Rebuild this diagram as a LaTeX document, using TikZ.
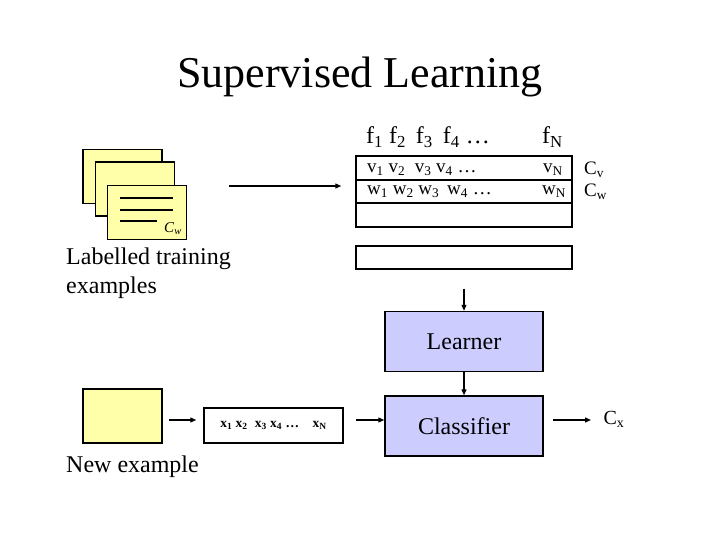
\documentclass[tikz,border=0pt]{standalone}
\usepackage{fontspec}
\setmainfont{Liberation Serif}
\usetikzlibrary{arrows.meta}
\definecolor{cardyellow}{RGB}{255,255,170}
\definecolor{lav}{RGB}{204,204,255}
\begin{document}
\begin{tikzpicture}[x=1pt,y=-1pt,
  card/.style={draw=black,line width=1.5pt,fill=cardyellow,minimum width=79pt,minimum height=54pt,inner sep=0pt},
  cell/.style={draw=black,line width=1.5pt,fill=white,minimum width=216pt,inner sep=0pt},
  procbox/.style={draw=black,line width=1.5pt,fill=lav,minimum width=158pt,minimum height=60pt,inner sep=0pt,font=\fontsize{24}{28}\selectfont},
  arr/.style={-{Triangle[length=6pt,width=5pt]},line width=1.3pt},
  big/.style={font=\fontsize{24}{29}\selectfont},
  mid/.style={font=\fontsize{19}{22}\selectfont},
  inner sep=0pt]
\useasboundingbox (0,0) rectangle (720,540);
% title
\node[font=\fontsize{44}{50}\selectfont] (title) at (360,77) {Supervised Learning};
% cards
\node[card] (card1) at (122.5,176.5) {};
\node[card] (card2) at (135,189) {};
\node[card] (card3) at (147,212.5) {};
\draw[line width=1.5pt] (120,198) -- (173,198) (120,210) -- (173,210) (120,221) -- (157,221);
\node[font=\fontsize{15}{17}\selectfont\itshape] (cw) at (173,229) {C\textsubscript{w}};
\node[big,align=left,anchor=north west] (lte) at (66,248) {Labelled training\\examples};
% table
\node[cell,minimum height=24pt] (row1) at (464,168) {};
\node[cell,minimum height=23pt] (row2) at (464,191.5) {};
\node[cell,minimum height=24pt] (row3) at (464,215) {};
\node[cell,minimum height=23pt] (row4) at (464,257.5) {};
\node[big,anchor=west] (fhead) at (366,137) {f\textsubscript{1} f\textsubscript{2}\, f\textsubscript{3}\, f\textsubscript{4} \dots};
\node[big,anchor=west] (fn) at (542,137) {f\textsubscript{N}};
\node[mid,anchor=west] (vrow) at (367,170) {v\textsubscript{1} v\textsubscript{2} \ v\textsubscript{3} v\textsubscript{4} \dots};
\node[mid,anchor=west] (vn) at (543,170) {v\textsubscript{N}};
\node[mid,anchor=west] (cv) at (584,170) {C\textsubscript{v}};
\node[mid,anchor=west] (wrow) at (367,192) {w\textsubscript{1} w\textsubscript{2} w\textsubscript{3}\, w\textsubscript{4} \dots};
\node[mid,anchor=west] (wn) at (542,192) {w\textsubscript{N}};
\node[mid,anchor=west] (cwr) at (584,192) {C\textsubscript{w}};
% learner / classifier
\node[procbox] (learner) at (464,341.5) {Learner};
\node[procbox] (classifier) at (464,426) {Classifier};
% new example
\node[card] (newex) at (122.5,416) {};
\node[big,anchor=north west] (nel) at (66,456) {New example};
\node[draw=black,line width=1.5pt,minimum width=139pt,minimum height=35pt,font=\fontsize{13.5}{15}\selectfont\bfseries] (xbox) at (273.5,425.5) {x\textsubscript{1} x\textsubscript{2}\; x\textsubscript{3} x\textsubscript{4} \dots\quad x\textsubscript{N}};
\node[font=\fontsize{20}{22}\selectfont] (cx) at (614,419) {C\textsubscript{x}};
% connectors
\draw[arr,shorten <=42pt,shorten >=14pt] (card3.east |- 0,186) -- (row1.west |- 0,186);
\draw[arr,shorten <=19pt] (row4.south -| learner.north) -- (learner.north);
\draw[arr] (learner) -- (classifier);
\draw[arr,shorten <=6pt,shorten >=7pt] (newex.east |- 0,420) -- (xbox.west |- 0,420);
\draw[arr,shorten <=12pt] (xbox.east |- 0,420) -- (classifier.west |- 0,420);
\draw[arr,shorten <=9pt,shorten >=23pt] (classifier.east |- 0,420) -- (cx.center |- 0,420);
\end{tikzpicture}
\end{document}
